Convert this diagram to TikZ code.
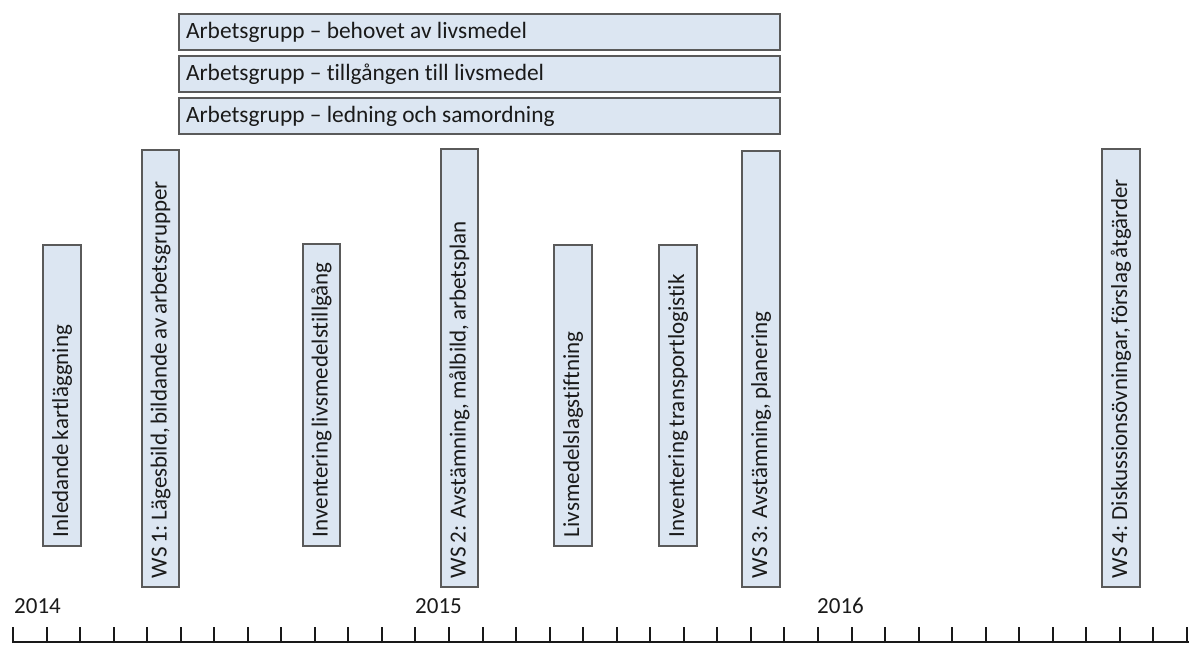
\documentclass[tikz,border=0pt]{standalone}
\usepackage{fontspec}
\setmainfont{Carlito}[Ligatures=NoCommon]
\newfontfamily\tightfont{Carlito}[Ligatures=NoCommon, WordSpace={0.7,0.3,0.3}]
\definecolor{boxfill}{HTML}{DCE6F2}
\definecolor{boxline}{HTML}{5A5A5A}
\definecolor{txt}{HTML}{1A1A1A}
\hyphenpenalty=10000
\exhyphenpenalty=10000
\begin{document}
\begin{tikzpicture}[x=1pt,y=-1pt,
  every node/.style={text=txt},
  basebox/.style={draw=boxline, fill=boxfill, line width=1.2pt, inner ysep=0pt,
    align=flush left},
  vbar/.style={basebox, rotate=90, inner xsep=9pt, font=\tightfont\fontsize{23}{27}\selectfont},
  hbar/.style={basebox, inner xsep=7pt, minimum height=36pt, text width=587pt,
    font=\fontsize{23.4}{27}\selectfont},
  year/.style={anchor=base west, inner sep=0pt, font=\fontsize{23}{27}\selectfont},
  axisline/.style={line width=2.2pt, black!90},
  tick/.style={line width=2pt, black!90}]
\useasboundingbox (0,0) rectangle (1198,645);

% horizontal working-group bars
\node[hbar] (h1) at (479.5,32) {Arbetsgrupp -- behovet av livsmedel};
\node[hbar] (h2) at (479.5,74) {Arbetsgrupp -- tillgången till livsmedel};
\node[hbar] (h3) at (479.5,116) {Arbetsgrupp -- ledning och samordning};

% vertical activity bars
\node[vbar, minimum height=38pt, text width=283pt] (inl) at (62,395.5) {Inledande kartläggning};
\node[vbar, minimum height=37pt, text width=419pt] (ws1) at (160.5,368.5) {WS 1: Lägesbild, bildande av arbetsgrupper};
\node[vbar, minimum height=37pt, text width=284pt] (invl) at (321.5,395) {Inventering livsmedelstillgång};
\node[vbar, minimum height=37pt, text width=420pt] (ws2) at (459.5,368) {WS 2:\ \ Avstämning, målbild, arbetsplan};
\node[vbar, minimum height=38pt, text width=283pt] (lag) at (573,395.5) {Livsmedelslagstiftning};
\node[vbar, minimum height=38pt, text width=283pt] (invt) at (678,395.5) {Inventering transportlogistik};
\node[vbar, minimum height=38pt, text width=418pt] (ws3) at (761,369) {WS 3:\ \ Avstämning, planering};
\node[vbar, minimum height=38pt, text width=420pt] (ws4) at (1121,368) {WS 4: Diskussionsövningar, förslag åtgärder};

% year labels
\node[year] (y2014) at (14,613) {2014};
\node[year] (y2015) at (415,613) {2015};
\node[year] (y2016) at (817,613) {2016};

% time axis
\coordinate (axstart) at (12,642);
\coordinate (axend) at (1189,642);
\draw[axisline] (axstart) -- (axend);
\foreach \k in {0,...,35}
  \draw[tick] ({13+33.54*\k},643) -- ({13+33.54*\k},627);
\end{tikzpicture}
\end{document}
